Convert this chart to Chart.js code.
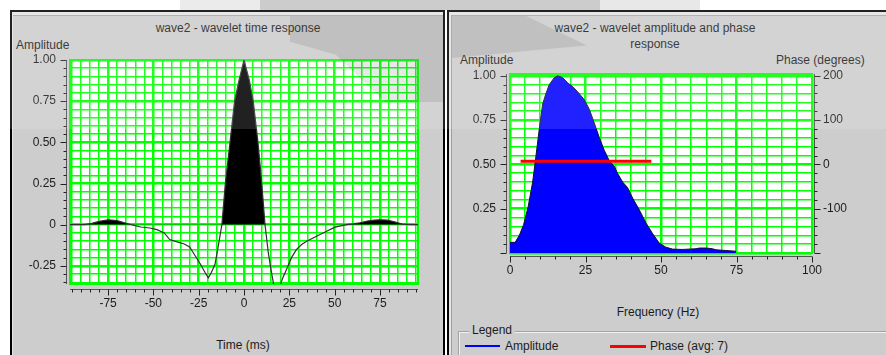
<!DOCTYPE html>
<html>
<head>
<meta charset="utf-8">
<script src="https://cdn.jsdelivr.net/npm/chart.js@4.4.1/dist/chart.umd.min.js"></script>
<style>
  html, body { margin: 0; padding: 0; }
  body {
    width: 886px; height: 355px; position: relative; overflow: hidden; background: #fff;
    font-family: "Liberation Sans", Arial, sans-serif; font-size: 12px; color: #1c1c1c;
  }
  .blk { position: absolute; }
  .panel { position: absolute; background: #cdcdcd; }
  .txt { position: absolute; white-space: nowrap; line-height: 14px; }
  canvas { position: absolute; top: 0; }
  .mark { position: absolute; pointer-events: none; z-index: 5; }
  #haze { left: 0; top: 0; width: 886px; height: 129px; background: rgba(255,255,255,0.13); }
</style>
</head>
<body>

<!-- panel frames -->
<div class="panel" style="left:10px;top:10px;width:431px;height:360px;border-left:2px solid #000;border-top:2px solid #000;border-right:2px solid #000"></div>
<div class="blk" style="left:12px;top:12px;width:431px;height:3px;background:#e4e4e4"></div>
<div class="blk" style="left:12px;top:15px;width:431px;height:1px;background:#a6a6a6"></div>
<div class="blk" style="left:12px;top:12px;width:1px;height:343px;background:#e4e4e4"></div>

<div class="panel" style="left:447px;top:10px;width:450px;height:360px;border-left:2px solid #000;border-top:2px solid #000"></div>
<div class="blk" style="left:449px;top:12px;width:437px;height:3px;background:#e4e4e4"></div>
<div class="blk" style="left:449px;top:15px;width:437px;height:1px;background:#a6a6a6"></div>
<div class="blk" style="left:449px;top:12px;width:2px;height:343px;background:#e4e4e4"></div>
<div class="blk" style="left:451px;top:15px;width:1px;height:340px;background:#a0a0a0"></div>

<!-- captions -->
<div class="txt" style="left:138px;top:21px;width:200px;text-align:center">wave2 - wavelet time response</div>
<div class="txt" style="left:16px;top:38px">Amplitude</div>
<div class="txt" style="left:143px;top:338px;width:200px;text-align:center">Time (ms)</div>

<div class="txt" style="left:535px;top:20px;width:240px;text-align:center;line-height:16px">wave2 - wavelet amplitude and phase<br>response</div>
<div class="txt" style="left:460px;top:53px">Amplitude</div>
<div class="txt" style="left:776px;top:53px">Phase (degrees)</div>
<div class="txt" style="left:558px;top:305px;width:200px;text-align:center">Frequency (Hz)</div>

<!-- legend group box -->
<div class="blk" style="left:458px;top:331px;width:440px;height:40px;border:1px solid #a2a2a2;box-shadow:inset 1px 1px 0 #f2f2f2, 1px 1px 0 #f2f2f2"></div>
<div class="txt" style="left:469px;top:323px;padding:0 3px;background:#cdcdcd">Legend</div>
<div id="legend"></div>

<canvas id="timeChart" width="443" height="355" style="left:0"></canvas>
<canvas id="specChart" width="443" height="355" style="left:443px"></canvas>

<!-- faint logo shapes over the upper part of the window -->
<div class="mark" id="haze"></div>
<div class="mark" style="left:180px;top:0;width:80px;height:10px;background:rgba(0,0,0,0.08)"></div>
<div class="mark" style="left:260px;top:0;width:340px;height:10px;background:rgba(0,0,0,0.2)"></div>
<div class="mark" style="left:600px;top:0;width:100px;height:10px;background:rgba(0,0,0,0.09)"></div>
<div class="mark" style="left:290px;top:16px;width:153px;height:86px;background:rgba(0,0,0,0.09);clip-path:polygon(0 0,100% 0,100% 100%,62% 100%,30% 45%,0 30%)"></div>
<div class="mark" style="left:452px;top:16px;width:135px;height:42px;background:rgba(0,0,0,0.09);clip-path:polygon(0 0,55% 0,100% 70%,0 100%)"></div>

<script>
// ---- wavelet time response ----
const timeMs  = [-96, -88, -84, -80, -75, -70, -66, -63, -60, -57, -52, -48, -44, -41, -36,
                 -33, -30, -28, -24, -21.5, -19.7, -18, -16, -14.2, -12.2, -10.3, -7.7, -5.2, -2.7, 0,
                 2.9, 5.1, 7.7, 9.8, 11.6, 13.4, 15, 16.5, 18, 19.9, 21.5, 23.5, 26.2, 29, 31.8,
                 34.6, 40, 45.6, 50.2, 56.6, 60, 64, 68, 72, 75, 79, 83, 87.8, 92, 96];
const timeAmp = [0, 0, 0.008, 0.02, 0.03, 0.025, 0.012, 0.003, -0.006, -0.014, -0.02, -0.03, -0.05, -0.09, -0.107,
                 -0.117, -0.135, -0.17, -0.24, -0.29, -0.323, -0.29, -0.24, -0.13, 0, 0.25, 0.5, 0.75, 0.88, 1.0,
                 0.88, 0.75, 0.5, 0.25, 0, -0.17, -0.28, -0.37, -0.4, -0.37, -0.32, -0.27, -0.2, -0.15, -0.12,
                 -0.10, -0.07, -0.04, -0.015, 0, 0.005, 0.012, 0.022, 0.028, 0.03, 0.028, 0.018, 0.003, 0, 0];

// ---- amplitude spectrum ----
const freqHz  = [0, 1.7, 3.1, 4.5, 6, 7.5, 8.4, 9.7, 10.8, 11.9, 13, 14.7, 15.8, 17.4, 19.1,
                 20.7, 22.4, 24.6, 26.3, 27.9, 29.6, 31.2, 32.9, 34.5, 35.6, 37.3, 38.9, 40.6, 42.8, 45,
                 47.2, 49.4, 51.6, 53.8, 57, 61.6, 62.7, 65, 67, 68.2, 71.5, 74.8];
const freqAmp = [0.06, 0.06, 0.10, 0.16, 0.26, 0.40, 0.52, 0.70, 0.84, 0.90, 0.95, 0.99, 1.0, 0.99, 0.96,
                 0.94, 0.91, 0.865, 0.81, 0.734, 0.65, 0.58, 0.52, 0.49, 0.45, 0.40, 0.37, 0.31, 0.244, 0.17,
                 0.11, 0.056, 0.033, 0.022, 0.02, 0.024, 0.028, 0.028, 0.024, 0.018, 0.014, 0.01];

// ---- phase (constant over the band) ----
const phaseHz  = [3.5, 46.8];
const phaseAvg = 7;

// ---- tick labels ----
const timeTickLabels    = [-75, -50, -25, 0, 25, 50, 75];
const timeAmpTickLabels = [-0.25, 0, 0.25, 0.5, 0.75, 1];
const freqTickLabels    = [0, 25, 50, 75, 100];
const specAmpTickLabels = [0.25, 0.5, 0.75, 1];
const phaseTickLabels   = [-100, 0, 100, 200];

const FONT = '"Liberation Sans", Arial, sans-serif';
const GRID_GREEN = '#00ff00';

function steps(from, to, step) {
  const out = [], n = Math.round((to - from) / step);
  for (let i = 0; i <= n; i++) out.push(+(from + i * step).toFixed(4));
  return out;
}
const onStep = (v, step) => Math.abs(v / step - Math.round(v / step)) < 1e-6;
const hasVal = (arr, v) => arr.some(a => Math.abs(a - v) < 1e-6);

function valueAxis(o) {
  return {
    type: 'linear', position: o.position, min: o.min, max: o.max,
    afterBuildTicks: s => { s.ticks = steps(o.from, o.to, o.step).map(v => ({ value: v })); },
    afterFit: s => { if (s.isHorizontal()) s.height = o.size; else s.width = o.size; },
    border: { display: false },
    grid: {
      display: o.grid !== false, drawTicks: false, color: GRID_GREEN,
      lineWidth: c => (c.tick && onStep(c.tick.value, o.major)) ? 2.5 : 1.5
    },
    ticks: {
      autoSkip: false, maxRotation: 0, padding: o.pad, color: '#1c1c1c',
      font: { family: FONT, size: 12 },
      callback: v => hasVal(o.labels, v) ? o.fmt(v) : ''
    }
  };
}

// plot background, green frame, axis lines with major/minor tick marks
const frameAndTicks = {
  id: 'frameAndTicks',
  beforeDraw(chart) {
    const { ctx, chartArea: a } = chart;
    ctx.save();
    ctx.fillStyle = '#ffffff';
    ctx.fillRect(a.left, a.top, a.right - a.left, a.bottom - a.top);
    ctx.restore();
  },
  beforeDatasetsDraw(chart) {
    const { ctx, chartArea: a } = chart;
    ctx.save();
    ctx.strokeStyle = GRID_GREEN; ctx.lineWidth = 2;
    ctx.strokeRect(a.left, a.top, a.right - a.left, a.bottom - a.top);
    ctx.restore();
  },
  afterDraw(chart, args, opts) {
    const { ctx, chartArea: a } = chart;
    ctx.save();
    ctx.lineWidth = 1;
    for (const ax of opts.axes) {
      const s = chart.scales[ax.id];
      ctx.strokeStyle = '#555';
      ctx.beginPath();
      if (ax.side === 'bottom') {
        const y = Math.round(a.bottom + ax.gap) + 0.5;
        ctx.moveTo(a.left, y); ctx.lineTo(a.right, y);
        ctx.stroke();
        ctx.strokeStyle = '#222';
        ctx.beginPath();
        for (const t of s.ticks) {
          const x = Math.round(s.getPixelForValue(t.value)) + 0.5;
          const len = onStep(t.value, ax.major) ? 6 : 3;
          ctx.moveTo(x, y); ctx.lineTo(x, y + len);
        }
      } else {
        const dir = ax.side === 'left' ? -1 : 1;
        const x = ax.side === 'left' ? Math.round(a.left - ax.gap) - 0.5 : Math.round(a.right + ax.gap) + 0.5;
        ctx.moveTo(x, a.top); ctx.lineTo(x, a.bottom);
        ctx.stroke();
        ctx.strokeStyle = '#222';
        ctx.beginPath();
        for (const t of s.ticks) {
          const y = Math.round(s.getPixelForValue(t.value)) + 0.5;
          const len = onStep(t.value, ax.major) ? 6 : 3;
          ctx.moveTo(x, y); ctx.lineTo(x + dir * len, y);
        }
      }
      ctx.stroke();
    }
    ctx.restore();
  }
};

const baseOptions = {
  responsive: false, animation: false, devicePixelRatio: 1,
  plugins: { legend: { display: false }, tooltip: { enabled: false } }
};

const fmt2 = v => (v === 0 ? '0' : v.toFixed(2));
const fmtInt = v => String(Math.round(v));

// ---- time response chart ----
new Chart(document.getElementById('timeChart'), {
  type: 'line',
  data: {
    datasets: [{
      label: 'Amplitude',
      data: timeMs.map((t, i) => ({ x: t, y: timeAmp[i] })),
      borderColor: '#303030', borderWidth: 1.2, pointRadius: 0, tension: 0,
      fill: { target: 'origin', above: '#000000', below: 'rgba(0,0,0,0)' }
    }]
  },
  options: Object.assign({}, baseOptions, {
    layout: { padding: { left: 0, right: 25, top: 60, bottom: 0 } },
    plugins: Object.assign({}, baseOptions.plugins, {
      frameAndTicks: { axes: [
        { id: 'y', side: 'left', gap: 3, major: 0.25 },
        { id: 'x', side: 'bottom', gap: 5, major: 25 }
      ] }
    }),
    scales: {
      x: valueAxis({ position: 'bottom', min: -96, max: 96, from: -95, to: 95, step: 5, major: 25,
                     size: 71, pad: 12, labels: timeTickLabels, fmt: fmtInt }),
      y: valueAxis({ position: 'left', min: -0.36, max: 1, from: -0.35, to: 1, step: 0.05, major: 0.25,
                     size: 70, pad: 14, labels: timeAmpTickLabels, fmt: fmt2 })
    }
  }),
  plugins: [frameAndTicks]
});

// ---- amplitude / phase chart ----
const specChart = new Chart(document.getElementById('specChart'), {
  type: 'line',
  data: {
    datasets: [{
      label: 'Amplitude',
      data: freqHz.map((f, i) => ({ x: f, y: freqAmp[i] })),
      yAxisID: 'y',
      borderColor: '#10102a', borderWidth: 1, pointRadius: 0, tension: 0,
      backgroundColor: '#0000ff', fill: 'origin', order: 2
    }, {
      label: 'Phase (avg: ' + phaseAvg + ')',
      data: phaseHz.map(f => ({ x: f, y: phaseAvg })),
      yAxisID: 'y2',
      borderColor: '#ff0000', borderWidth: 3, pointRadius: 0, fill: false, order: 1
    }]
  },
  options: Object.assign({}, baseOptions, {
    layout: { padding: { left: 0, right: 0, top: 74, bottom: 0 } },
    plugins: Object.assign({}, baseOptions.plugins, {
      frameAndTicks: { axes: [
        { id: 'y', side: 'left', gap: 3, major: 0.25 },
        { id: 'y2', side: 'right', gap: 2, major: 100 },
        { id: 'x', side: 'bottom', gap: 3, major: 25 }
      ] }
    }),
    scales: {
      x: valueAxis({ position: 'bottom', min: 0, max: 100, from: 0, to: 100, step: 5, major: 25,
                     size: 102, pad: 10, labels: freqTickLabels, fmt: fmtInt }),
      y: valueAxis({ position: 'left', min: 0, max: 1.01, from: 0, to: 1, step: 0.05, major: 0.25,
                     size: 67, pad: 14, labels: specAmpTickLabels, fmt: v => v.toFixed(2) }),
      y2: valueAxis({ position: 'right', min: -200, max: 204, from: -200, to: 200, step: 20, major: 100,
                      size: 74, pad: 11, labels: phaseTickLabels, fmt: fmtInt, grid: false })
    }
  }),
  plugins: [frameAndTicks]
});

// legend entries built from the datasets
(function buildLegend() {
  const host = document.getElementById('legend');
  const slots = [{ line: 465, text: 505, w: 35, h: 1.5 }, { line: 610, text: 650, w: 36, h: 3 }];
  specChart.data.datasets.forEach((ds, i) => {
    const s = slots[i];
    const color = ds.fill ? ds.backgroundColor : ds.borderColor;
    const ln = document.createElement('div');
    ln.className = 'blk';
    ln.style.cssText = `left:${s.line}px;top:${346 - s.h / 2}px;width:${s.w}px;height:${s.h}px;background:${color}`;
    host.appendChild(ln);
    const tx = document.createElement('div');
    tx.className = 'txt';
    tx.style.cssText = `left:${s.text}px;top:339px`;
    tx.textContent = ds.label;
    host.appendChild(tx);
  });
})();
</script>
</body>
</html>
